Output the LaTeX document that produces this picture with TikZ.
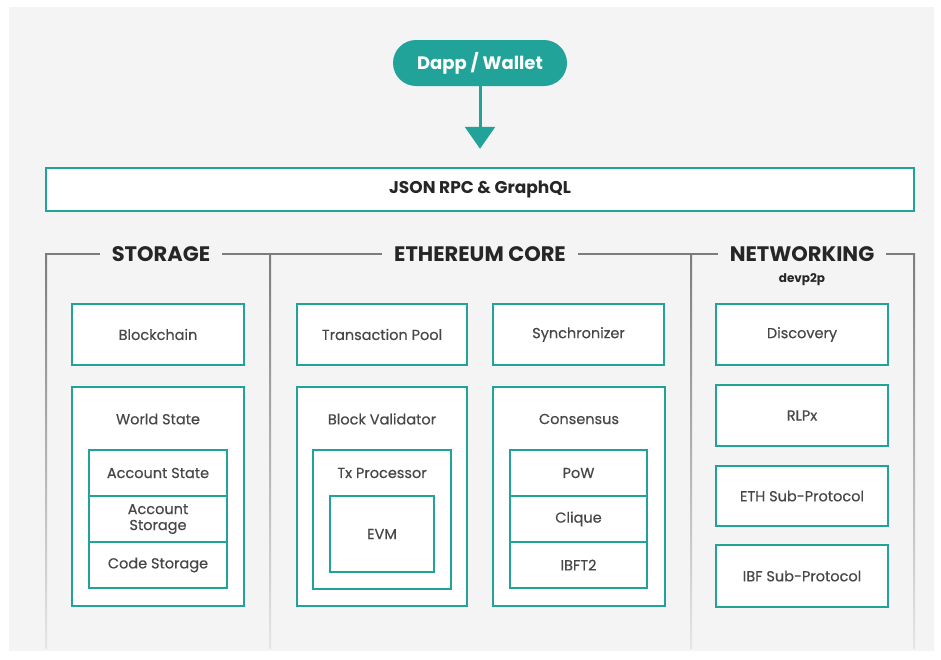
\documentclass[tikz,border=0pt]{standalone}
\usepackage{fontspec}
\setmainfont{Poppins}
\newfontfamily\bodyfont{Poppins}[FakeBold=0.45]
\usetikzlibrary{arrows.meta}
\definecolor{ethteal}{HTML}{22A39A}
\definecolor{bggrey}{HTML}{F4F4F4}
\definecolor{txtgrey}{HTML}{474747}
\definecolor{linegrey}{HTML}{7C7C7C}
\tikzset{
  box/.style={draw=ethteal, line width=2.5pt, fill=white, inner sep=0pt, text=txtgrey,
    align=center, font=\bodyfont\fontsize{14.5}{16}\selectfont},
  boxlabel/.style={text=txtgrey, inner sep=0pt, font=\bodyfont\fontsize{14.5}{16}\selectfont},
  heading/.style={text=black!85, inner sep=0pt, font=\fontsize{21}{24}\selectfont\bfseries},
  sepline/.style={draw=linegrey, line width=2pt},
  fadeline/.style={top color=linegrey, bottom color=black!10},
}

\begin{document}
\begin{tikzpicture}[x=1pt,y=-1pt]
    %%%%% START %%%%%
    \def\bw{172}
    \def\bh{61}
    \def\sh{46}
    \def\gap{12pt}

    \useasboundingbox (0,0) rectangle (941,659);
    \fill[bggrey] (9,7) rectangle (934,651);

    % client and api
    \node[fill=ethteal, rounded corners=23pt, minimum width=174pt, minimum height=46pt, inner sep=0pt,
      text=white, font=\fontsize{18}{20}\selectfont\bfseries] (dapp) at (480,63) {Dapp / Wallet};
    \node[box, minimum width=868pt, minimum height=43pt, text=black!85,
      font=\fontsize{17}{20}\selectfont\bfseries] (json) at (480,189.5) {JSON RPC \& GraphQL};
    \draw[ethteal, line width=3pt, -{Triangle[width=30pt,length=22pt]}, shorten >=18pt] (dapp) -- (json);

    % section headings
    \node[heading] (stor) at (161,254) {STORAGE};
    \node[heading] (core) at (480,254) {ETHEREUM CORE};
    \node[heading] (net) at (802,254) {NETWORKING};
    \node[text=black!85, inner sep=0pt, font=\fontsize{12}{14}\selectfont\bfseries] (devp) at (802,279.5) {devp2p};

    \coordinate (c1) at (46,254);
    \coordinate (c2) at (270,254);
    \coordinate (c3) at (691,254);
    \coordinate (c4) at (914,254);
    \draw[sepline] (c1) -- ([xshift=-\gap]stor.west);
    \draw[sepline] ([xshift=\gap]stor.east) -- ([xshift=-\gap]core.west);
    \draw[sepline] ([xshift=\gap]core.east) -- ([xshift=-\gap]net.west);
    \draw[sepline] ([xshift=\gap]net.east) -- (c4);
    \foreach \c in {c1,c2,c3,c4}
      \shade[fadeline] ([xshift=-1pt,yshift=1pt]\c) rectangle ([xshift=1pt,yshift=-394pt]\c);

    % storage
    \node[box, minimum width=\bw pt, minimum height=\bh pt] (chain) at (158,334.5) {Blockchain};
    \node[box, minimum width=\bw pt, minimum height=219pt] (world) at (158,496.5) {};
    \node[boxlabel] (worldl) at (158,419) {World State};
    \node[box, minimum width=138pt, minimum height=\sh pt] (acst) at (158,473) {Account State};
    \node[box, minimum width=138pt, minimum height=\sh pt] (acsto) at (158,519) {Account\\Storage};
    \node[box, minimum width=138pt, minimum height=\sh pt] (code) at (158,565) {Code Storage};

    % ethereum core
    \node[box, minimum width=170pt, minimum height=\bh pt] (pool) at (382,334.5) {Transaction Pool};
    \node[box, minimum width=171pt, minimum height=\bh pt] (sync) at (578.5,334.5) {Synchronizer};
    \node[box, minimum width=170pt, minimum height=219pt] (valid) at (382,496.5) {};
    \node[boxlabel] (validl) at (382,419) {Block Validator};
    \node[box, minimum width=138pt, minimum height=139pt] (txp) at (382,519.5) {};
    \node[boxlabel] (txpl) at (382,473) {Tx Processor};
    \node[box, minimum width=104pt, minimum height=76pt] (evm) at (382,534) {EVM};
    \node[box, minimum width=172pt, minimum height=219pt] (cons) at (579,496.5) {};
    \node[boxlabel] (consl) at (579,419) {Consensus};
    \node[box, minimum width=137pt, minimum height=\sh pt] (pow) at (578.5,473) {PoW};
    \node[box, minimum width=137pt, minimum height=\sh pt] (clique) at (578.5,519) {Clique};
    \node[box, minimum width=137pt, minimum height=\sh pt] (ibft) at (578.5,565) {IBFT2};

    % networking
    \node[box, minimum width=\bw pt, minimum height=\bh pt] (disc) at (802,334.5) {Discovery};
    \node[box, minimum width=\bw pt, minimum height=\bh pt] (rlpx) at (802,415.5) {RLPx};
    \node[box, minimum width=\bw pt, minimum height=60pt] (ethp) at (802,496) {ETH Sub-Protocol};
    \node[box, minimum width=\bw pt, minimum height=62pt] (ibfp) at (802,576) {IBF Sub-Protocol};
    %%%%% END %%%%%
\end{tikzpicture}
\end{document}
